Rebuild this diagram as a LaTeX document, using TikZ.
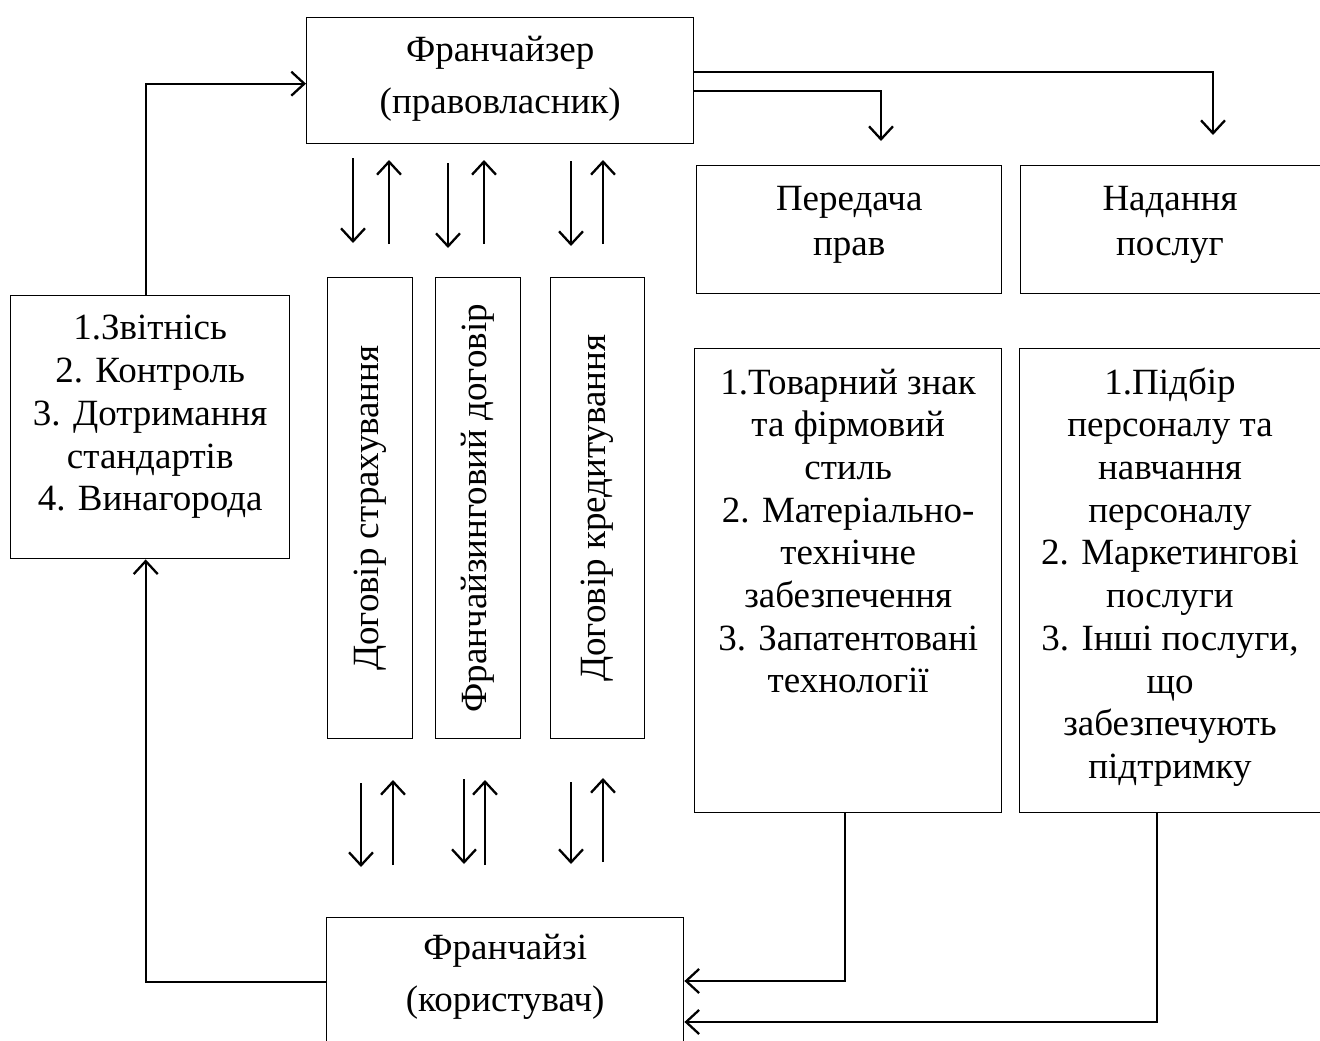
\documentclass[tikz,border=0pt]{standalone}
\usepackage{fontspec}
\setmainfont{Liberation Serif}
\usetikzlibrary{arrows.meta}
\begin{document}
\begin{tikzpicture}[x=1pt,y=-1pt,
  box/.style={draw, line width=1.4pt, inner sep=0pt, anchor=north west},
  txt/.style={font=\fontsize{37}{42.7}\selectfont, align=center, inner sep=0pt},
  arr/.style={line width=2.3pt, -{Straight Barb[length=13pt,width=24pt,line width=2.3pt]}}]
\useasboundingbox (0,0) rectangle (1320,1041);
% boxes
\node[box, minimum width=387pt, minimum height=126pt] (top) at (306,17) {};
\node[box, minimum width=279pt, minimum height=263pt] (left) at (10,295) {};
\node[box, minimum width=85pt, minimum height=461pt] (v1) at (327,277) {};
\node[box, minimum width=85pt, minimum height=461pt] (v2) at (435,277) {};
\node[box, minimum width=94pt, minimum height=461pt] (v3) at (550,277) {};
\node[box, minimum width=305pt, minimum height=128pt] (per) at (696,165) {};
\node[box, minimum width=330pt, minimum height=128pt] (nad) at (1020,165) {};
\node[box, minimum width=307pt, minimum height=464pt] (rb1) at (694,348) {};
\node[box, minimum width=330pt, minimum height=464pt] (rb2) at (1019,348) {};
\node[box, minimum width=357pt, minimum height=150pt] (fr) at (326,917) {};
% texts
\node[txt, font=\fontsize{37}{52}\selectfont] (ttop) at ([yshift=-62pt]top.north) {Франчайзер\\(правовласник)};
\node[txt] (tleft) at ([yshift=-122pt]left.north) {1.Звітнісь\\2. Контроль\\3. Дотримання\\стандартів\\4. Винагорода};
\node[txt, rotate=90] (tv1) at (v1.center) {Договір страхування};
\node[txt, rotate=90] (tv2) at (v2.center) {Франчайзинговий договір};
\node[txt, rotate=90] (tv3) at (v3.center) {Договір кредитування};
\node[txt, font=\fontsize{37}{45}\selectfont] (tper) at ([yshift=-60pt]per.north) {Передача\\прав};
\node[txt, font=\fontsize{37}{45}\selectfont] (tnad) at ([yshift=-60pt]nad.north -| 1170,0) {Надання\\послуг};
\node[txt] (trb1) at ([yshift=-183pt]rb1.north) {1.Товарний знак\\та фірмовий\\стиль\\2. Матеріально-\\технічне\\забезпечення\\3. Запатентовані\\технології};
\node[txt] (trb2) at ([yshift=-229pt]rb2.north -| 1170,0) {1.Підбір\\персоналу та\\навчання\\персоналу\\2. Маркетингові\\послуги\\3. Інші послуги,\\що\\забезпечують\\підтримку};
\node[txt, font=\fontsize{37}{52}\selectfont] (tfr) at ([yshift=-60pt]fr.north) {Франчайзі\\(користувач)};
% connectors
\coordinate (e1) at (1213,135);
\coordinate (e2) at (881,141);
\draw[arr] ([xshift=-4.5pt]left.north) |- ([yshift=-3pt]top.west);
\draw[arr] ([yshift=-65pt]fr.north west) -| ([xshift=-4.5pt]left.south);
\draw[arr] ([yshift=-55pt]top.north east) -| (e1);
\draw[arr] ([yshift=-74pt]top.north east) -| (e2);
\draw[arr] ([xshift=-3.5pt]rb1.south) |- ([yshift=-64pt]fr.north east);
\draw[arr] (rb2.south -| 1157,0) |- ([yshift=-105pt]fr.north east);
% paired arrows
\foreach \i/\x/\a/\b in {1/353/158/243, 2/448/163/248, 3/571/161/246,
                         4/361/783/867, 5/464/779/864, 6/571/782/864} {
  \coordinate (ds\i) at (\x,\a);
  \coordinate (de\i) at (\x,\b);
  \draw[arr] (ds\i) -- (de\i);
}
\foreach \i/\x/\a/\b in {1/389/244/160, 2/484/244/160, 3/603/244/160,
                         4/393/865/780, 5/485/865/780, 6/603/862/778} {
  \coordinate (us\i) at (\x,\a);
  \coordinate (ue\i) at (\x,\b);
  \draw[arr] (us\i) -- (ue\i);
}
\end{tikzpicture}
\end{document}
